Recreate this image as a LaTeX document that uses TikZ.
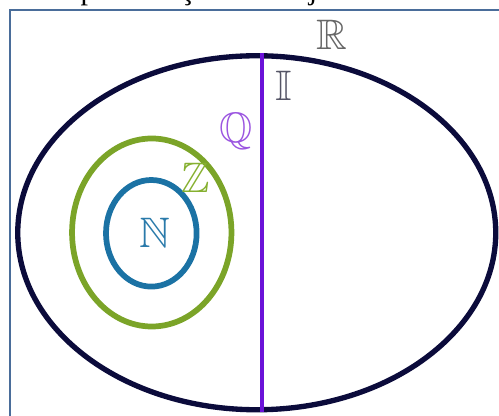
\documentclass[tikz,border=0pt]{standalone}
\usepackage{amssymb}
\usepackage{fontspec}
\newfontfamily\capfont{Liberation Serif}
\definecolor{navy}{HTML}{0B0B3B}
\definecolor{violetline}{HTML}{6B12D8}
\definecolor{zgreen}{HTML}{7BA428}
\definecolor{nblue}{HTML}{1B72A4}
\definecolor{framecol}{HTML}{4A6D9A}
\definecolor{rgray}{HTML}{666666}
\definecolor{igray}{HTML}{555566}
\definecolor{qpurple}{HTML}{9B55E0}
\definecolor{zlabel}{HTML}{86B030}
\definecolor{nlabel}{HTML}{2A7AAA}
\begin{document}
\begin{tikzpicture}[x=0.75pt,y=-0.75pt,
  setline/.style={line width=4.3pt},
  setlabel/.style={inner sep=0pt,font=\fontsize{32}{32}\selectfont}]
\useasboundingbox (0,0) rectangle (499,416);
\clip (0,0) rectangle (499,416);
% caption (cut off at the top)
\node[anchor=base west,inner sep=0pt,font=\capfont\fontsize{22.5}{22.5}\selectfont] (cap) at (47,-0.5) {Representação de conjuntos numéricos};
% frame
\draw[framecol,line width=1.5pt] (10,420) -- (10,10) -- (505,10);
% sets
\draw[navy,line width=4pt] (256.75,232.75) ellipse [x radius=239, y radius=177];
\draw[setline,zgreen] (151.75,232.5) ellipse [x radius=79.7, y radius=94];
\draw[setline,nblue] (151.3,233.3) ellipse [x radius=45.3, y radius=53.3];
\draw[violetline,line width=3pt] (261.5,53) -- (261.5,412);
% labels
\node[setlabel,text=rgray] (R) at (332,35) {$\mathbb{R}$};
\node[setlabel,text=igray] (I) at (284,86) {$\mathbb{I}$};
\node[setlabel,text=qpurple] (Q) at (236,131) {$\mathbb{Q}$};
\node[setlabel,text=zlabel] (Z) at (196,178) {$\mathbb{Z}$};
\node[setlabel,text=nlabel] (N) at (154.5,232.5) {$\mathbb{N}$};
\end{tikzpicture}
\end{document}
